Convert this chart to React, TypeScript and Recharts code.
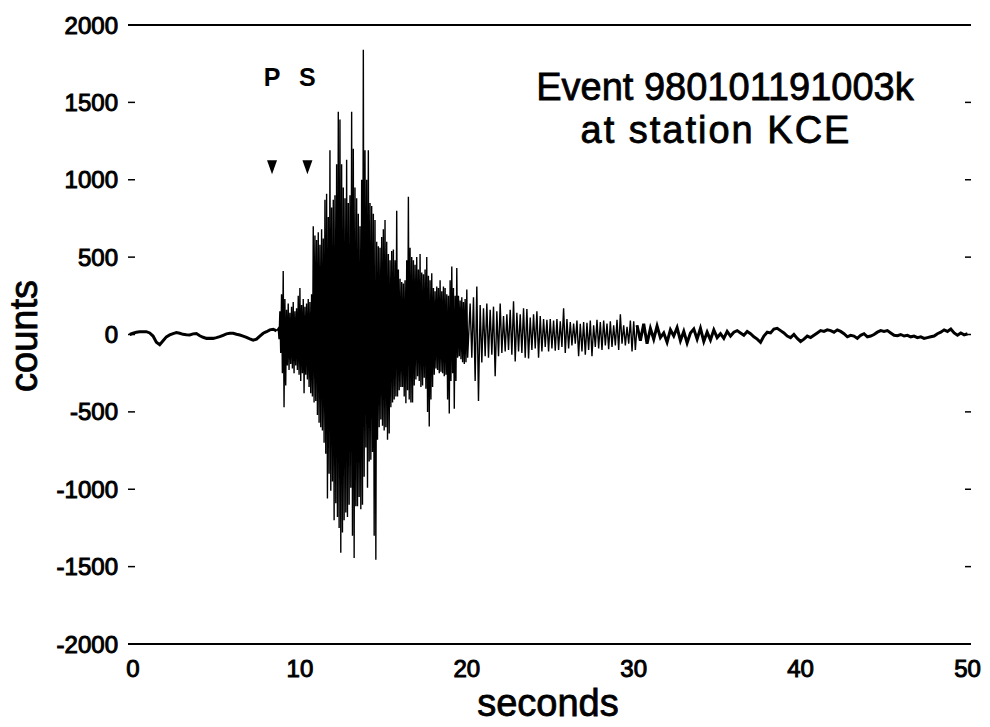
import React from 'react';
import { ComposedChart, Line, XAxis, YAxis, ReferenceLine, ReferenceDot } from 'recharts';

// pre-event noise, one sample every 0.2 s starting at -0.2 s
const preStart = -0.2;
const preStep = 0.2;
const preCounts = [
  0, 8, 14, 18, 18, 18, 10, -10, -50, -66, -40, -15, -3, 6, 12, 8, 1, -2, -3, 4, 6, -8, -18,
  -25, -24, -25, -20, -14, -5, 4, 8, 8, 2, -3, -10, -18, -28, -36, -30, -10, 8, 18, 30, 34, 24,
];

// strong motion: peak and trough per 0.1 s bin, starting at 8.7 s
const burstStart = 8.7;
const burstStep = 0.1;
const burstHigh = [
  40, 150, 260, 410, 230, 160, 200, 140, 180, 210,
  150, 170, 250, 300, 190, 230, 180, 200, 230, 210,
  260, 700, 640, 610, 660, 580, 680, 620, 870, 910,
  760, 1190, 820, 870, 900, 1100, 1440, 1390, 1100, 950,
  880, 1130, 850, 900, 1440, 1200, 950, 880, 780, 700,
  1000, 1840, 1190, 1000, 1190, 850, 830, 780, 740, 600,
  570, 560, 630, 680, 740, 600, 520, 480, 540, 550,
  480, 800, 420, 360, 340, 330, 350, 480, 890, 560,
  500, 480, 450, 500, 420, 520, 400, 390, 420, 500,
  380, 350, 395, 300, 280, 310, 300, 350, 280, 310,
  300, 260, 250, 350, 440, 300, 250, 430, 250, 220,
  240, 210, 230, 290,
];
const burstLow = [
  -30, -120, -250, -470, -330, -200, -230, -190, -220, -250,
  -200, -230, -260, -300, -250, -380, -260, -290, -340, -380,
  -400, -440, -430, -520, -570, -600, -620, -700, -770, -1060,
  -900, -1010, -950, -1200, -1090, -1180, -1250, -1410, -1280, -1200,
  -1150, -1180, -1100, -990, -1300, -1445, -1110, -1110, -1050, -1130,
  -1100, -920, -730, -990, -820, -810, -760, -1300, -1455, -680,
  -600, -550, -590, -620, -600, -680, -640, -470, -440, -420,
  -400, -400, -360, -340, -340, -400, -445, -360, -420, -440,
  -440, -330, -290, -270, -300, -340, -330, -280, -350, -500,
  -595, -420, -340, -260, -220, -230, -250, -240, -250, -270,
  -260, -420, -510, -300, -250, -480, -300, -150, -140, -160,
  -180, -190, -180, -150,
];

// coda: peak and trough per 0.2 s bin, starting at 20.2 s
const codaStart = 20.2;
const codaStep = 0.2;
const codaHigh = [
  200, 240, 310, 190, 170, 200, 160, 180, 150, 200,
  120, 130, 160, 215, 140, 130, 170, 165, 110, 130,
  150, 120, 100, 95, 100, 90, 100, 85, 170, 100,
  80, 70, 90, 70, 80, 75, 90, 60, 95, 80,
  90, 70, 85, 60, 95, 130, 60, 50, 90, 85,
];
const codaLow = [
  -150, -300, -430, -180, -140, -150, -130, -270, -140, -120,
  -110, -100, -130, -175, -110, -120, -150, -155, -100, -90,
  -150, -110, -80, -110, -90, -105, -100, -80, -120, -90,
  -70, -60, -140, -110, -130, -100, -140, -80, -90, -100,
  -70, -95, -80, -70, -100, -60, -70, -60, -110, -100,
];

// late tail, one sample every 0.2 s starting at 30.2 s
const tailStart = 30.2;
const tailStep = 0.2;
const tailCounts = [
  60, -40, 70, -60, 40, -30, 55, -20, 10, -50,
  30, -10, 45, -40, 20, -55, 10, 35, -30, 40,
  -45, 15, -35, 30, -20, 5, -25, 20, -10, 15,
  25, 10, -5, 20, 5, -15, -30, -50, -10, 15,
  10, 35, 40, 25, 10, -10, -20, 0, -25, -45,
  -30, -10, -20, -5, 10, 25, 20, 30, 25, 15,
  30, 20, 5, -15, -5, -10, -25, -5, 5, -15,
  -10, 0, 15, 25, 20, 25, 10, -5, -8, 0,
  -10, -5, -15, -10, -20, -15, -25, -20, -15, -10,
  5, 15, 30, 20, 35, 10, -5, 10, -2, 5,
];

const arrivalNames = ['P', 'S'];
const arrivalTimes = [8.33, 10.45];
const arrivalMarkCounts = 1080;
const arrivalLabelCounts = 1663;

const xTicks = [0, 10, 20, 30, 40, 50];
const yTicks = [-2000, -1500, -1000, -500, 0, 500, 1000, 1500, 2000];

const W = 990;
const H = 727;
const PLOT_LEFT = 128;
const PLOT_RIGHT = 971;
const PLOT_TOP = 25;
const PLOT_BOTTOM = 644;
const FONT = '"Liberation Sans", Arial, Helvetica, sans-serif';

const round = (n: number) => Math.round(n * 1000) / 1000;

const preData = preCounts.map((v, i) => ({ t: round(preStart + i * preStep), v }));
const tailData = tailCounts.map((v, i) => ({ t: round(tailStart + i * tailStep), v }));

const burstData: { t: number; v: number }[] = [preData[preData.length - 1]];
burstHigh.forEach((hi, i) => {
  const t = burstStart + i * burstStep;
  burstData.push({ t: round(t), v: hi });
  burstData.push({ t: round(t + burstStep / 2), v: burstLow[i] });
});
codaHigh.forEach((hi, i) => {
  const t = codaStart + i * codaStep;
  burstData.push({ t: round(t), v: hi });
  burstData.push({ t: round(t + codaStep / 2), v: codaLow[i] });
});
burstData.push(tailData[0]);

const YTick = (props: any) => {
  const { y, payload } = props;
  const v = payload.value as number;
  return (
    <g>
      <text x={PLOT_LEFT - 10} y={y} textAnchor="end" dominantBaseline="central" fontSize={24}
        fontFamily={FONT} fill="#000" stroke="#000" strokeWidth={1}>
        {v}
      </text>
      {Math.abs(v) < 2000 && (
        <>
          <line x1={PLOT_LEFT} x2={PLOT_LEFT + 7} y1={y} y2={y} stroke="#000" strokeWidth={1.5} />
          <line x1={PLOT_RIGHT - 6} x2={PLOT_RIGHT} y1={y} y2={y} stroke="#000" strokeWidth={1.5} />
        </>
      )}
    </g>
  );
};

const XTick = (props: any) => {
  const { x, payload } = props;
  return (
    <text x={x} y={PLOT_BOTTOM + 33} textAnchor="middle" fontSize={24} fontFamily={FONT}
      fill="#000" stroke="#000" strokeWidth={1}>
      {payload.value}
    </text>
  );
};

const Arrow = (props: any) => {
  const { cx, cy } = props;
  return <path d={`M${cx - 5},${cy - 7} L${cx + 5},${cy - 7} L${cx},${cy + 7} Z`} fill="#000" />;
};

export default function App() {
  return (
    <div style={{ position: 'absolute', left: 0, top: 0, width: W, height: H, background: '#fff' }}>
      <ComposedChart
        width={W}
        height={H}
        margin={{ top: PLOT_TOP, right: W - PLOT_RIGHT, bottom: 33, left: 0 }}
      >
        <XAxis
          type="number"
          dataKey="t"
          domain={[-0.3, 50.21]}
          allowDataOverflow
          ticks={xTicks}
          interval={0}
          height={H - PLOT_BOTTOM - 33}
          tickLine={false}
          axisLine={{ stroke: '#000', strokeWidth: 2 }}
          tick={<XTick />}
        />
        <YAxis
          type="number"
          domain={[-2000, 2000]}
          allowDataOverflow
          ticks={yTicks}
          interval={0}
          width={PLOT_LEFT}
          axisLine={false}
          tickLine={false}
          tick={<YTick />}
        />
        <ReferenceLine y={2000} stroke="#000" strokeWidth={2} />
        <Line data={preData} dataKey="v" type="linear" stroke="#000" strokeWidth={3}
          dot={false} isAnimationActive={false} />
        <Line data={burstData} dataKey="v" type="linear" stroke="#000" strokeWidth={1.4}
          dot={false} isAnimationActive={false} />
        <Line data={tailData} dataKey="v" type="linear" stroke="#000" strokeWidth={3}
          dot={false} isAnimationActive={false} />
        {arrivalTimes.map((t, i) => (
          <ReferenceDot key={'m' + i} x={t} y={arrivalMarkCounts} r={6} shape={<Arrow />} />
        ))}
        {arrivalTimes.map((t, i) => (
          <ReferenceDot
            key={'l' + i}
            x={t}
            y={arrivalLabelCounts}
            r={0}
            shape={(p: any) => (
              <text x={p.cx} y={p.cy} textAnchor="middle" dominantBaseline="central" fontSize={25}
                fontWeight="bold" fontFamily={FONT} fill="#000">
                {arrivalNames[i]}
              </text>
            )}
          />
        ))}
      </ComposedChart>
      <svg width={W} height={H} style={{ position: 'absolute', left: 0, top: 0, pointerEvents: 'none' }}>
        <g fontFamily={FONT} fill="#000" stroke="#000" strokeWidth={0.8} fontSize={38}>
          <text x={725} y={100} textAnchor="middle">Event 980101191003k</text>
          <text x={716} y={143} textAnchor="middle" letterSpacing={2}>at station KCE</text>
          <text x={548} y={716} textAnchor="middle" fontSize={38}>seconds</text>
          <text transform="translate(37,336) rotate(-90)" textAnchor="middle">counts</text>
        </g>
      </svg>
    </div>
  );
}
